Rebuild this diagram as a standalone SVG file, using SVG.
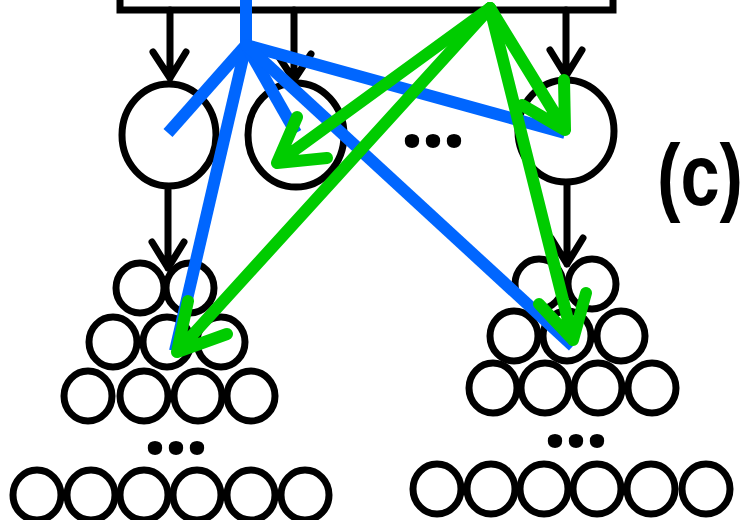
<svg xmlns="http://www.w3.org/2000/svg" width="747" height="520" viewBox="0 0 747 520">
<style>
.nd{fill:none;stroke:#000;stroke-width:7}
.sm{fill:none;stroke:#000;stroke-width:7}
.ar{fill:none;stroke:#000;stroke-width:7;stroke-linecap:round;stroke-linejoin:round}
.bl{fill:none;stroke:#0066FF;stroke-width:12;stroke-linecap:butt}
.gr{fill:none;stroke:#00CC00;stroke-width:12;stroke-linecap:round;stroke-linejoin:round}
.dots{font-family:"Open Sans","Liberation Sans",sans-serif;font-weight:bold;font-size:84px;fill:#000}
.lbl{font-family:"Liberation Sans",Arial,sans-serif;font-weight:bold;font-size:88px;fill:#000}
</style>
<rect width="747" height="520" fill="#fff"/>
<g id="top-box"><rect x="120" y="-50" width="493" height="60" class="nd"/></g>
<g id="black-arrows">
<path class="ar" d="M170 10V78M153 52L170 78L186 52"/>
<path class="ar" d="M294 10V80M277 54L294 80L311 54"/>
<path class="ar" d="M566 10V76M550 50L566 76L582 50"/>
<path class="ar" d="M168 190V268M152 242L168 268L184 242"/>
<path class="ar" d="M567 185V264M551 238L567 264L583 238"/>
</g>
<g id="node-a"><ellipse cx="169" cy="135" rx="47" ry="51" class="nd"/></g>
<g id="node-b"><ellipse cx="296" cy="135" rx="48" ry="52" class="nd"/></g>
<g id="node-c"><ellipse cx="566" cy="131" rx="48" ry="51" class="nd"/></g>
<text class="dots" x="400" y="147" textLength="66" lengthAdjust="spacing">...</text>
<g id="pyramid-left">
<ellipse cx="140" cy="288" rx="24" ry="25" class="sm"/>
<ellipse cx="190" cy="288" rx="24" ry="25" class="sm"/>
<ellipse cx="113" cy="342" rx="24" ry="25" class="sm"/>
<ellipse cx="167" cy="342" rx="24" ry="25" class="sm"/>
<ellipse cx="221" cy="342" rx="24" ry="25" class="sm"/>
<ellipse cx="88" cy="396" rx="24" ry="25" class="sm"/>
<ellipse cx="144" cy="396" rx="24" ry="25" class="sm"/>
<ellipse cx="198" cy="396" rx="24" ry="25" class="sm"/>
<ellipse cx="251" cy="396" rx="24" ry="25" class="sm"/>
<text class="dots" x="143" y="454" textLength="66" lengthAdjust="spacing">...</text>
<ellipse cx="37" cy="495" rx="24" ry="25" class="sm"/>
<ellipse cx="91" cy="495" rx="24" ry="25" class="sm"/>
<ellipse cx="144" cy="495" rx="24" ry="25" class="sm"/>
<ellipse cx="197" cy="495" rx="24" ry="25" class="sm"/>
<ellipse cx="251" cy="495" rx="24" ry="25" class="sm"/>
<ellipse cx="305" cy="495" rx="24" ry="25" class="sm"/>
</g>
<g id="pyramid-right">
<ellipse cx="539" cy="284" rx="24" ry="25" class="sm"/>
<ellipse cx="592" cy="284" rx="24" ry="25" class="sm"/>
<ellipse cx="514" cy="336" rx="24" ry="25" class="sm"/>
<ellipse cx="567" cy="336" rx="24" ry="25" class="sm"/>
<ellipse cx="621" cy="336" rx="24" ry="25" class="sm"/>
<ellipse cx="493" cy="388" rx="24" ry="25" class="sm"/>
<ellipse cx="545" cy="388" rx="24" ry="25" class="sm"/>
<ellipse cx="598" cy="388" rx="24" ry="25" class="sm"/>
<ellipse cx="652" cy="388" rx="24" ry="25" class="sm"/>
<text class="dots" x="543" y="447" textLength="66" lengthAdjust="spacing">...</text>
<ellipse cx="437" cy="489" rx="24" ry="25" class="sm"/>
<ellipse cx="491" cy="489" rx="24" ry="25" class="sm"/>
<ellipse cx="544" cy="489" rx="24" ry="25" class="sm"/>
<ellipse cx="597" cy="489" rx="24" ry="25" class="sm"/>
<ellipse cx="651" cy="489" rx="24" ry="25" class="sm"/>
<ellipse cx="706" cy="489" rx="24" ry="25" class="sm"/>
</g>
<g id="connectors">
<g id="blue">
<path class="bl" d="M246 0V46"/>
<path class="bl" d="M246 45L168 133"/>
<path class="bl" d="M246 45L175 351"/>
<path class="bl" d="M246 45L296 133"/>
<path class="bl" d="M246 45L565 133"/>
<path class="bl" d="M246 45L573 346"/>
<circle cx="246" cy="45" r="6" fill="#0066FF"/>
</g>
<g id="green">
<path class="gr" d="M490 8L277 163M297 117L277 163L327 158"/>
<path class="gr" d="M490 8L177 352M188 301L177 352L227 334"/>
<path class="gr" d="M490 8L565 130M564 80L565 130L522 105"/>
<path class="gr" d="M490 8L573 340M586 293L573 340L539 304"/>
</g>
</g>
<text class="lbl" x="657" y="205" textLength="86" lengthAdjust="spacingAndGlyphs">(c)</text>
</svg>
